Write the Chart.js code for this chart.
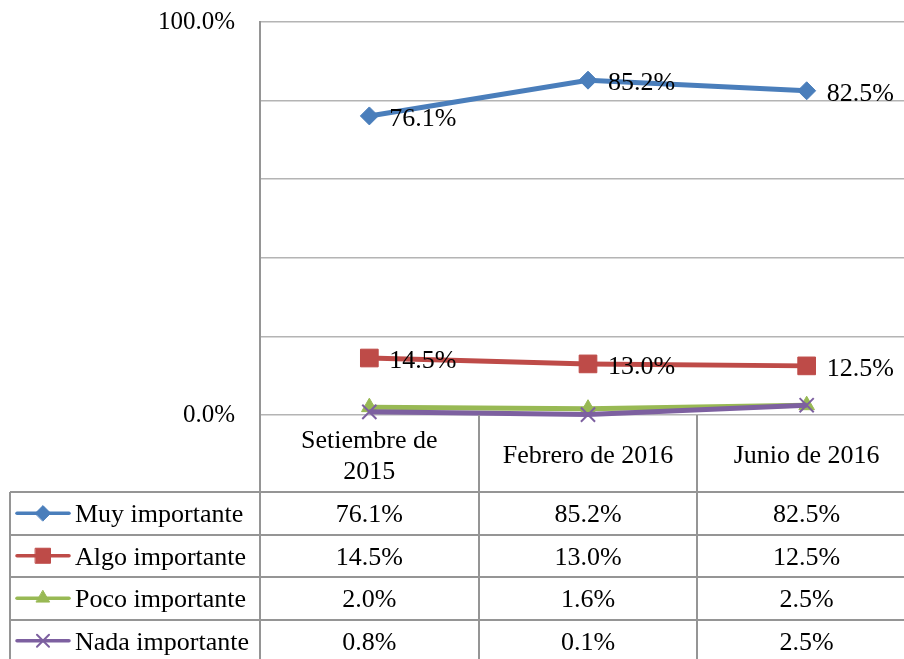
<!DOCTYPE html>
<html>
<head>
<meta charset="utf-8">
<script src="https://cdn.jsdelivr.net/npm/chart.js@4"></script>
<style>
  html, body { margin: 0; padding: 0; background: #fff; overflow: hidden; }
  canvas { display: block; }
</style>
</head>
<body>
<canvas id="chart" width="916" height="659"></canvas>
<script>
const categories = [["Setiembre de", "2015"], "Febrero de 2016", "Junio de 2016"];
const seriesNames = ["Muy importante", "Algo importante", "Poco importante", "Nada importante"];
const muyImportante = [76.1, 85.2, 82.5];
const algoImportante = [14.5, 13.0, 12.5];
const pocoImportante = [2.0, 1.6, 2.5];
const nadaImportante = [0.8, 0.1, 2.5];
const yTickLabels = [0, 100];

const FONT = "'Liberation Serif', 'Times New Roman', serif";
const colors = ["#4a7ebb", "#be4b48", "#98b954", "#7d60a0"];
const styles = ["rectRot", "rect", "triangle", "crossRot"];
const radii = [9, 12.5, 9, 10];
const labelled = [true, true, false, false];

function fmt(v) { return v.toFixed(1) + "%"; }

const datasets = [muyImportante, algoImportante, pocoImportante, nadaImportante].map((d, i) => ({
    label: seriesNames[i],
    data: d,
    order: 3 - i,
    borderColor: colors[i],
    backgroundColor: colors[i],
    borderWidth: 5,
    pointStyle: styles[i],
    pointRadius: radii[i],
    pointBorderWidth: styles[i] === "crossRot" ? 2 : 1,
    pointBorderColor: colors[i],
    pointBackgroundColor: colors[i],
    tension: 0,
    clip: false
}));

// value labels to the right of the points
const valueLabels = {
    id: "valueLabels",
    afterDatasetsDraw(chart) {
        const ctx = chart.ctx;
        ctx.save();
        ctx.font = "26px " + FONT;
        ctx.fillStyle = "#000";
        ctx.textAlign = "left";
        ctx.textBaseline = "middle";
        chart.data.datasets.forEach((ds, i) => {
            if (!labelled[i]) return;
            chart.getDatasetMeta(i).data.forEach((pt, j) => {
                ctx.fillText(fmt(ds.data[j]), pt.x + 20, pt.y + 3);
            });
        });
        ctx.restore();
    }
};

// data table under the plot
const dataTable = {
    id: "dataTable",
    afterDraw(chart) {
        const ctx = chart.ctx;
        const xs = chart.scales.x;
        const area = chart.chartArea;
        const n = categories.length;
        const step = xs.getPixelForValue(1) - xs.getPixelForValue(0);
        const left = xs.getPixelForValue(0) - step / 2;
        const right = xs.getPixelForValue(n - 1) + step / 2;
        const headTop = area.bottom;
        const headBottom = 492;
        const rowH = 42.5;
        const tableLeft = 10;
        const bottom = headBottom + rowH * seriesNames.length;

        ctx.save();
        ctx.strokeStyle = "#959595";
        ctx.lineWidth = 2;
        ctx.beginPath();
        for (let k = 0; k <= n; k++) {
            const x = Math.round(left + k * step);
            ctx.moveTo(x, k === 0 ? area.top : headTop);
            ctx.lineTo(x, bottom);
        }
        ctx.moveTo(tableLeft, headBottom);
        ctx.lineTo(tableLeft, bottom);
        for (let r = 0; r <= seriesNames.length; r++) {
            const y = Math.round(headBottom + r * rowH);
            ctx.moveTo(tableLeft, y);
            ctx.lineTo(right, y);
        }
        ctx.stroke();

        ctx.font = "26px " + FONT;
        ctx.fillStyle = "#000";
        ctx.textBaseline = "middle";
        chart.data.datasets.forEach((ds, i) => {
            const cy = headBottom + rowH * (i + 0.5);
            // legend key
            ctx.strokeStyle = ds.borderColor;
            ctx.lineWidth = 3.5;
            ctx.lineCap = "round";
            ctx.beginPath();
            ctx.moveTo(17, cy);
            ctx.lineTo(69, cy);
            ctx.stroke();
            ctx.fillStyle = ds.backgroundColor;
            ctx.strokeStyle = ds.borderColor;
            ctx.lineWidth = ds.pointBorderWidth;
            Chart.helpers.drawPoint(ctx, {
                pointStyle: ds.pointStyle,
                radius: ds.pointRadius * 0.85,
                borderWidth: ds.pointBorderWidth,
                rotation: 0
            }, 43, cy);
            ctx.fillStyle = "#000";
            ctx.textAlign = "left";
            ctx.fillText(ds.label, 75, cy + 2);
            ctx.textAlign = "center";
            ds.data.forEach((v, j) => {
                ctx.fillText(fmt(v), xs.getPixelForValue(j), cy + 2);
            });
        });
        ctx.restore();
    }
};

new Chart(document.getElementById("chart"), {
    type: "line",
    data: { labels: categories, datasets: datasets },
    options: {
        responsive: false,
        animation: false,
        layout: { autoPadding: false, padding: 0 },
        plugins: {
            legend: { display: false },
            tooltip: { enabled: false }
        },
        scales: {
            x: {
                offset: true,
                grid: { display: false, drawTicks: false },
                border: { display: false },
                ticks: {
                    color: "#000",
                    font: { family: FONT, size: 26 },
                    padding: 26,
                    maxRotation: 0,
                    autoSkip: false,
                    crossAlign: "center"
                },
                afterFit(scale) {
                    scale.height = 659 - 415;
                    scale.paddingLeft = 0;
                    scale.paddingRight = 0;
                }
            },
            y: {
                min: 0,
                max: 100,
                grid: { color: "#b4b4b4", lineWidth: 1.5, drawTicks: false },
                border: { display: true, color: "#959595", width: 2 },
                ticks: {
                    stepSize: 20,
                    padding: 25,
                    color: "#000",
                    font: { family: FONT, size: 25 },
                    callback: v => yTickLabels.includes(v) ? fmt(v) : ""
                },
                afterFit(scale) {
                    scale.width = 260;
                    scale.paddingTop = 22;
                    scale.paddingBottom = 0;
                }
            }
        }
    },
    plugins: [valueLabels, dataTable]
});
</script>
</body>
</html>
